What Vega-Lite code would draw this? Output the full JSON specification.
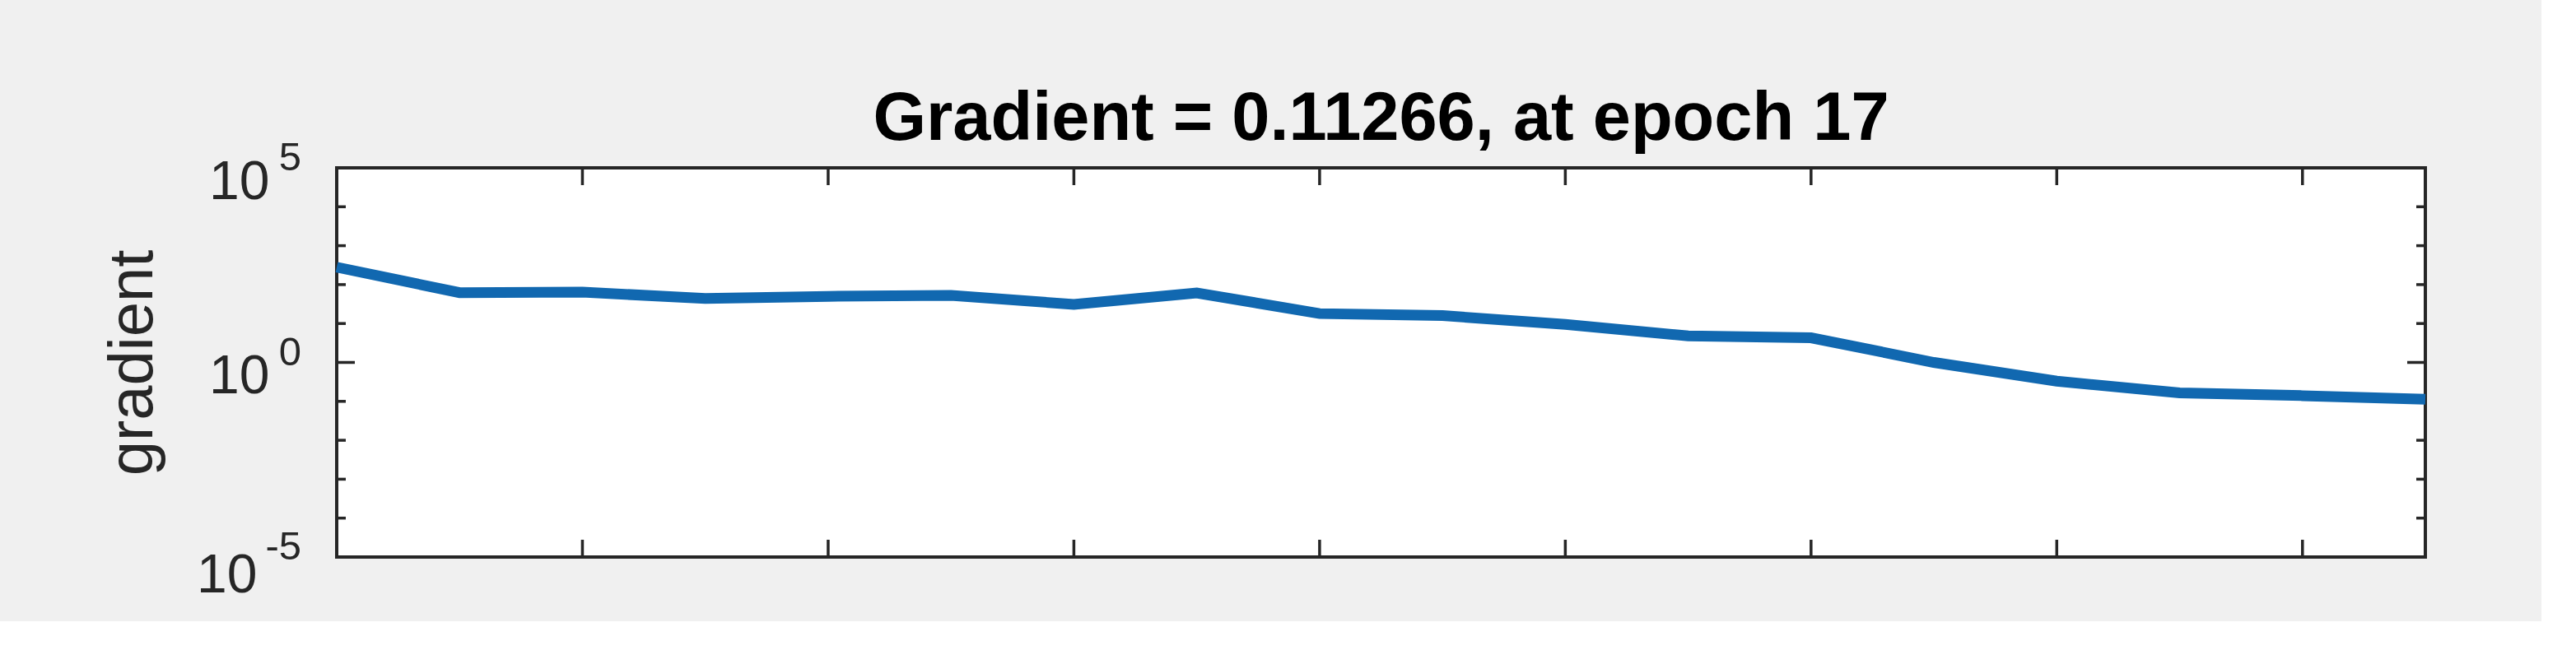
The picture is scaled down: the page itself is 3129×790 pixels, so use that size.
{
  "$schema": "https://vega.github.io/schema/vega-lite/v6.json",
  "width": 2537,
  "height": 473,
  "autosize": {"type": "none"},
  "padding": {"left": 409, "top": 204, "right": 141, "bottom": 78},
  "background": "#f0f0f0",
  "title": {
    "text": "Gradient = 0.11266, at epoch 17",
    "font": "Liberation Sans",
    "fontSize": 83,
    "fontWeight": "bold",
    "color": "#000000",
    "anchor": "middle",
    "frame": "group",
    "baseline": "alphabetic",
    "offset": -85
  },
  "datasets": {
    "grad": [
      {"epoch": 0, "gradient": 280},
      {"epoch": 1, "gradient": 62},
      {"epoch": 2, "gradient": 64},
      {"epoch": 3, "gradient": 44},
      {"epoch": 4, "gradient": 50},
      {"epoch": 5, "gradient": 53},
      {"epoch": 6, "gradient": 31},
      {"epoch": 7, "gradient": 61},
      {"epoch": 8, "gradient": 18},
      {"epoch": 9, "gradient": 16},
      {"epoch": 10, "gradient": 9.5},
      {"epoch": 11, "gradient": 4.8},
      {"epoch": 12, "gradient": 4.3},
      {"epoch": 13, "gradient": 1.0},
      {"epoch": 14, "gradient": 0.33},
      {"epoch": 15, "gradient": 0.165},
      {"epoch": 16, "gradient": 0.14},
      {"epoch": 17, "gradient": 0.11266}
    ],
    "ytick": [
      {"value": 1e-5, "major": true},
      {"value": 1e-4, "major": false},
      {"value": 1e-3, "major": false},
      {"value": 1e-2, "major": false},
      {"value": 1e-1, "major": false},
      {"value": 1, "major": true},
      {"value": 10, "major": false},
      {"value": 100, "major": false},
      {"value": 1000, "major": false},
      {"value": 10000, "major": false},
      {"value": 100000, "major": true}
    ],
    "xtick": [
      {"epoch": 0}, {"epoch": 2}, {"epoch": 4}, {"epoch": 6}, {"epoch": 8},
      {"epoch": 10}, {"epoch": 12}, {"epoch": 14}, {"epoch": 16}
    ],
    "ylabel": [
      {"value": 100000, "exp": "5"},
      {"value": 1, "exp": "0"},
      {"value": 1e-5, "exp": "-5"}
    ]
  },
  "layer": [
    {
      "data": {"name": "ytick"},
      "transform": [{"filter": "!datum.major"}],
      "mark": {"type": "tick", "orient": "horizontal", "size": 22, "thickness": 3.5, "color": "#262626", "opacity": 1, "clip": true},
      "encoding": {
        "x": {"datum": 0, "type": "quantitative", "scale": {"domain": [0, 17], "nice": false, "zero": false}, "axis": null},
        "y": {"field": "value", "type": "quantitative", "scale": {"type": "log", "domain": [1e-5, 100000], "nice": false}}
      }
    },
    {
      "data": {"name": "ytick"},
      "transform": [{"filter": "!datum.major"}],
      "mark": {"type": "tick", "orient": "horizontal", "size": 22, "thickness": 3.5, "color": "#262626", "opacity": 1, "clip": true},
      "encoding": {
        "x": {"datum": 17, "type": "quantitative", "axis": null},
        "y": {"field": "value", "type": "quantitative"}
      }
    },
    {
      "data": {"name": "ytick"},
      "transform": [{"filter": "datum.major"}],
      "mark": {"type": "tick", "orient": "horizontal", "size": 44, "thickness": 3.5, "color": "#262626", "opacity": 1, "clip": true},
      "encoding": {
        "x": {"datum": 0, "type": "quantitative", "axis": null},
        "y": {"field": "value", "type": "quantitative"}
      }
    },
    {
      "data": {"name": "ytick"},
      "transform": [{"filter": "datum.major"}],
      "mark": {"type": "tick", "orient": "horizontal", "size": 44, "thickness": 3.5, "color": "#262626", "opacity": 1, "clip": true},
      "encoding": {
        "x": {"datum": 17, "type": "quantitative", "axis": null},
        "y": {"field": "value", "type": "quantitative"}
      }
    },
    {
      "data": {"name": "xtick"},
      "mark": {"type": "tick", "orient": "vertical", "size": 42, "thickness": 3.5, "color": "#262626", "opacity": 1, "clip": true},
      "encoding": {
        "x": {"field": "epoch", "type": "quantitative", "axis": null},
        "y": {"datum": 1e-5, "type": "quantitative"}
      }
    },
    {
      "data": {"name": "xtick"},
      "mark": {"type": "tick", "orient": "vertical", "size": 42, "thickness": 3.5, "color": "#262626", "opacity": 1, "clip": true},
      "encoding": {
        "x": {"field": "epoch", "type": "quantitative", "axis": null},
        "y": {"datum": 100000, "type": "quantitative"}
      }
    },
    {
      "data": {"name": "ylabel"},
      "mark": {"type": "text", "font": "Liberation Sans", "fontSize": 49, "color": "#262626", "align": "right", "baseline": "alphabetic", "dx": -43, "dy": 3},
      "encoding": {
        "x": {"datum": 0, "type": "quantitative", "axis": null},
        "y": {"field": "value", "type": "quantitative"},
        "text": {"field": "exp"}
      }
    },
    {
      "data": {"name": "grad"},
      "mark": {"type": "line", "color": "#1168b0", "strokeWidth": 13},
      "encoding": {
        "x": {"field": "epoch", "type": "quantitative", "axis": null},
        "y": {
          "field": "gradient",
          "type": "quantitative",
          "axis": {
            "title": "gradient",
            "values": [1e-5, 1, 100000],
            "labelExpr": "'10'",
            "labelPadding": {"condition": {"test": "datum.value < 0.001", "value": 97}, "value": 82},
            "labelOffset": {"condition": {"test": "datum.value < 0.001", "value": 42}, "value": 37}
          }
        }
      }
    }
  ],
  "config": {
    "view": {"fill": "#ffffff", "stroke": "#262626", "strokeWidth": 4},
    "axisY": {
      "ticks": false,
      "domain": false,
      "grid": false,
      "labelFont": "Liberation Sans",
      "labelFontSize": 66,
      "labelColor": "#262626",
      "labelAlign": "right",
      "labelBaseline": "alphabetic",
      "labelFlush": false,
      "labelOverlap": false,
      "labelBound": false,
      "titleFont": "Liberation Sans",
      "titleFontSize": 76,
      "titleFontWeight": "normal",
      "titleColor": "#262626",
      "titleBaseline": "alphabetic",
      "titlePadding": 54
    }
  }
}
